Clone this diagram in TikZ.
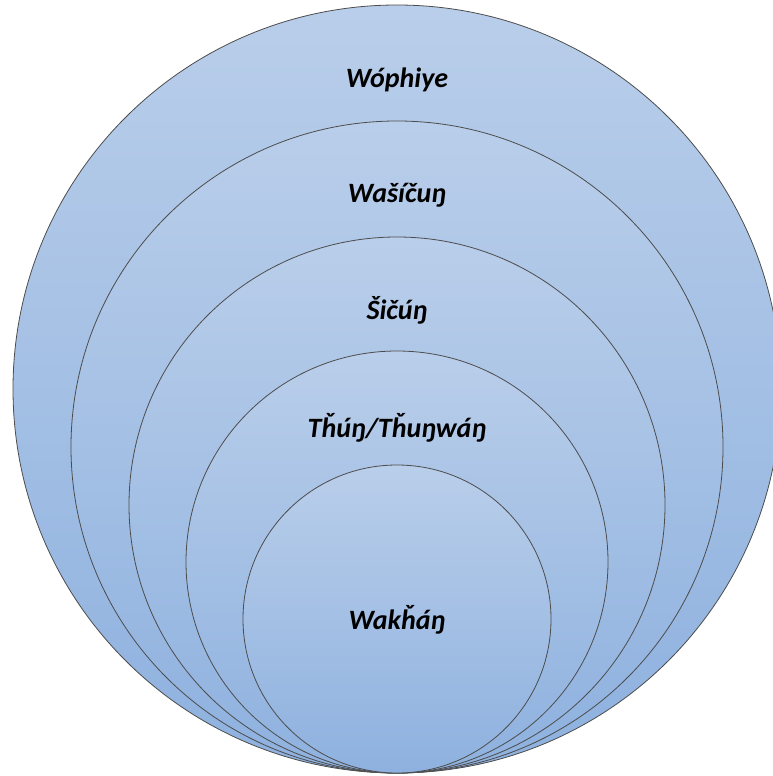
\documentclass[tikz,border=0pt]{standalone}
\usepackage{fontspec}
\setmainfont{Carlito}
\begin{document}
\begin{tikzpicture}[x=1pt,y=-1pt,
  ring/.style={circle, draw=black!70, line width=0.8pt, shading=axis, top color=ringtop, bottom color=ringbot, inner sep=0pt, minimum size=#1},
  lbl/.style={font=\fontsize{28}{32}\selectfont\bfseries\itshape, text=black}]
\definecolor{ringtop}{RGB}{185,206,234}
\definecolor{ringbot}{RGB}{142,177,223}
\useasboundingbox (0,0) rectangle (773,776);
\node[ring=768pt] (c1) at (397,389) {};
\node[ring=652pt] (c2) at (397,447) {};
\node[ring=536pt] (c3) at (397,505) {};
\node[ring=422pt] (c4) at (397,562) {};
\node[ring=308pt] (c5) at (397,619) {};
\node[lbl] (t1) at (397,80) {Wóphiye};
\node[lbl] (t2) at (397,195) {Wašíčuŋ};
\node[lbl] (t3) at (397,310) {Šičúŋ};
\node[lbl] (t4) at (397,428) {Tȟúŋ/Tȟuŋwáŋ};
\node[lbl] (t5) at (397,620) {Wakȟáŋ};
\end{tikzpicture}
\end{document}
